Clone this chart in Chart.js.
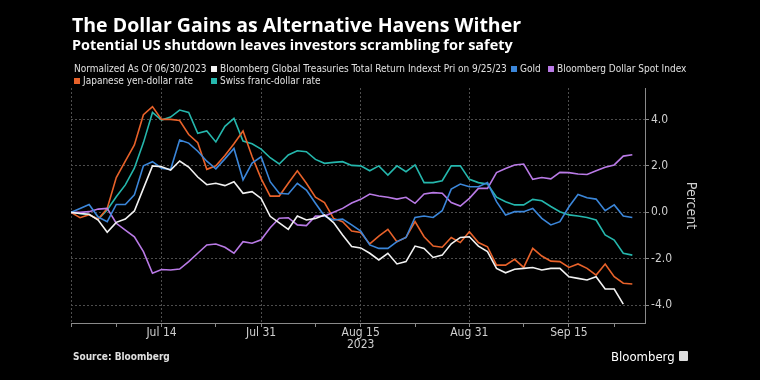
<!DOCTYPE html>
<html>
<head>
<meta charset="utf-8">
<script src="https://cdn.jsdelivr.net/npm/chart.js@4"></script>
<style>
  html, body { margin: 0; padding: 0; background: #000; }
  #wrap { position: relative; width: 760px; height: 380px; background: #000; overflow: hidden;
          font-family: 'DejaVu Sans Condensed', 'DejaVu Sans', sans-serif; }
  canvas { position: absolute; left: 0; top: 0; }
  .t { position: absolute; white-space: nowrap; color: #fff; line-height: 1; }
  #title { left: 72px; top: 14px; font-family: 'Open Sans', sans-serif; font-size: 19px; font-weight: bold; }
  #subtitle { left: 72px; top: 37px; font-family: 'Open Sans', sans-serif; font-size: 15px; font-weight: bold; }
  .leg { position: absolute; font-size: 10px; color: #e0e0e0; white-space: nowrap; line-height: 12px; }
  .box { display: inline-block; width: 6px; height: 6px; margin-right: 3px; vertical-align: 0px; }
  #source { left: 73px; top: 351px; font-size: 10px; font-weight: bold; color: #e0e0e0; line-height: 12px; }
  #logo { left: 611px; top: 349px; font-size: 13px; color: #fff; line-height: 15px; }
  #icon { position: absolute; left: 679px; top: 351px; width: 9px; height: 10px; border-radius: 1px; background: #ddd; }
</style>
</head>
<body>
<div id="wrap">
  <canvas id="c" width="760" height="380"></canvas>
  <div class="t" id="title">The Dollar Gains as Alternative Havens Wither</div>
  <div class="t" id="subtitle">Potential US shutdown leaves investors scrambling for safety</div>
  <div id="legend"></div>
  <div class="t" id="source">Source: Bloomberg</div>
  <div class="t" id="logo">Bloomberg</div>
  <div id="icon"></div>
</div>
<script>
// Trading days (x categories)
const dates = [
  'Jun 30',
  'Jul 3','Jul 4','Jul 5','Jul 6','Jul 7','Jul 10','Jul 11','Jul 12','Jul 13','Jul 14',
  'Jul 17','Jul 18','Jul 19','Jul 20','Jul 21','Jul 24','Jul 25','Jul 26','Jul 27','Jul 28','Jul 31',
  'Aug 1','Aug 2','Aug 3','Aug 4','Aug 7','Aug 8','Aug 9','Aug 10','Aug 11','Aug 14','Aug 15',
  'Aug 16','Aug 17','Aug 18','Aug 21','Aug 22','Aug 23','Aug 24','Aug 25','Aug 28','Aug 29','Aug 30','Aug 31',
  'Sep 1','Sep 4','Sep 5','Sep 6','Sep 7','Sep 8','Sep 11','Sep 12','Sep 13','Sep 14','Sep 15',
  'Sep 18','Sep 19','Sep 20','Sep 21','Sep 22','Sep 25','Sep 26'
];
const majorTickIdx = [10, 21, 32, 44, 55];
const minorTickIdx = [0, 5, 16, 27, 38, 50, 60];
const yearLabel = '2023';
const yTicks = [-4, -2, 0, 2, 4];

const treasuries = [0,-0.05,-0.08,-0.33,-0.86,-0.43,-0.29,0.06,1.03,2.0,1.96,
  1.82,2.21,1.95,1.52,1.19,1.25,1.15,1.32,0.82,0.89,0.6,
  -0.17,-0.45,-0.73,-0.16,-0.33,-0.26,-0.11,-0.44,-0.97,-1.47,-1.53,
  -1.76,-2.05,-1.76,-2.22,-2.12,-1.45,-1.55,-1.94,-1.84,-1.35,-1.08,-1.05,
  -1.45,-1.69,-2.41,-2.6,-2.45,-2.41,-2.37,-2.48,-2.41,-2.41,-2.77,
  -2.84,-2.91,-2.77,-3.3,-3.3,-3.95,null];
const gold = [0,0.17,0.34,-0.2,-0.4,0.34,0.34,0.75,2.0,2.18,1.9,
  1.84,3.11,2.98,2.63,2.2,1.87,2.3,2.75,1.4,2.12,2.39,
  1.32,0.82,0.79,1.25,0.96,0.39,-0.16,-0.33,-0.29,-0.54,-0.81,
  -1.4,-1.55,-1.55,-1.26,-1.08,-0.22,-0.16,-0.22,0.07,1.0,1.22,1.1,
  1.1,1.28,0.46,-0.11,0.03,0.03,0.17,-0.26,-0.54,-0.4,0.24,
  0.77,0.63,0.57,0.07,0.32,-0.16,-0.22];
const dollarIndex = [0,0,0.03,0.14,0.17,-0.47,-0.76,-1.05,-1.69,-2.62,-2.46,
  -2.48,-2.44,-2.12,-1.76,-1.4,-1.36,-1.5,-1.76,-1.26,-1.33,-1.18,
  -0.66,-0.25,-0.23,-0.54,-0.57,-0.16,-0.16,0,0.17,0.4,0.56,
  0.79,0.7,0.65,0.57,0.65,0.39,0.79,0.85,0.82,0.42,0.27,0.6,
  1.03,1.03,1.71,1.89,2.04,2.08,1.42,1.5,1.44,1.72,1.71,
  1.65,1.63,1.79,1.94,2.04,2.42,2.48];
const yen = [0,-0.23,-0.1,-0.3,0.17,1.5,2.2,2.9,4.2,4.55,4.0,
  4.0,3.95,3.35,3.0,1.85,2.0,2.45,2.95,3.5,2.4,1.45,
  0.7,0.7,1.25,1.79,1.25,0.65,0.42,-0.26,-0.4,-0.8,-0.87,
  -1.36,-1.02,-0.73,-1.26,-1.08,-0.4,-1.05,-1.45,-1.5,-1.08,-1.3,-0.83,
  -1.3,-1.48,-2.27,-2.27,-2.02,-2.37,-1.55,-1.88,-2.1,-2.12,-2.37,
  -2.22,-2.41,-2.7,-2.22,-2.77,-3.05,-3.08];
const franc = [0,-0.05,-0.1,-0.3,0.1,0.67,1.18,1.9,3.0,4.3,3.97,
  4.1,4.4,4.3,3.4,3.5,3.03,3.7,4.04,3.07,2.95,2.72,
  2.35,2.08,2.47,2.65,2.61,2.28,2.11,2.15,2.18,2.02,2.0,
  1.79,2.0,1.6,2.0,1.75,2.04,1.28,1.28,1.36,2.0,2.0,1.42,
  1.28,1.22,0.65,0.46,0.32,0.32,0.56,0.5,0.25,0.03,-0.11,
  -0.16,-0.22,-0.33,-0.97,-1.19,-1.76,-1.84];

const seriesNames = ['Bloomberg Global Treasuries Total Return Indexst Pri on 9/25/23', 'Gold',
  'Bloomberg Dollar Spot Index', 'Japanese yen-dollar rate', 'Swiss franc-dollar rate'];
const seriesData = [treasuries, gold, dollarIndex, yen, franc];
const seriesColors = ['#f2f2f2', '#3b86d9', '#b97ae6', '#e8622a', '#25b7ad'];
const legendNote = 'Normalized As Of 06/30/2023';

// fit title widths to the reference layout
function fitWidth(id, target, baseline) {
  const el = document.getElementById(id);
  const fs = parseFloat(getComputedStyle(el).fontSize);
  const w = el.getBoundingClientRect().width;
  const nfs = fs * target / w;
  el.style.fontSize = nfs.toFixed(2) + 'px';
  // Open Sans: baseline sits ~0.888em below the top of a line-height:1 box
  el.style.top = (baseline - 0.888 * nfs).toFixed(1) + 'px';
}
fitWidth('title', 449, 32);
fitWidth('subtitle', 441, 51);

// HTML legend
(function () {
  const leg = document.getElementById('legend');
  const items = [
    { text: legendNote, x: 74, y: 63 },
    { text: seriesNames[0], color: seriesColors[0], x: 211, y: 63 },
    { text: seriesNames[1], color: seriesColors[1], x: 511, y: 63 },
    { text: seriesNames[2], color: seriesColors[2], x: 548, y: 63 },
    { text: seriesNames[3], color: seriesColors[3], x: 74, y: 75 },
    { text: seriesNames[4], color: seriesColors[4], x: 211, y: 75 }
  ];
  items.forEach(it => {
    const d = document.createElement('div');
    d.className = 'leg';
    d.style.left = it.x + 'px';
    d.style.top = it.y + 'px';
    if (it.color) {
      const b = document.createElement('span');
      b.className = 'box';
      b.style.background = it.color;
      d.appendChild(b);
    }
    d.appendChild(document.createTextNode(it.text));
    leg.appendChild(d);
  });
})();

const FONT = "'DejaVu Sans Condensed', 'DejaVu Sans', sans-serif";
const allX = minorTickIdx.concat(majorTickIdx).sort((a, b) => a - b);
const gridIdx = [0].concat(majorTickIdx);

new Chart(document.getElementById('c'), {
  type: 'line',
  data: {
    datasets: seriesData.map((arr, k) => ({
      label: seriesNames[k],
      data: arr.map((v, i) => ({ x: i, y: v })),
      borderColor: seriesColors[k],
      backgroundColor: seriesColors[k],
      borderWidth: 1.6,
      pointRadius: 0,
      tension: 0,
      spanGaps: false
    }))
  },
  options: {
    responsive: false,
    animation: false,
    devicePixelRatio: 1,
    layout: { padding: { left: 71, top: 88, right: 61, bottom: 0 } },
    plugins: { legend: { display: false }, tooltip: { enabled: false } },
    scales: {
      x: {
        type: 'linear',
        min: 0,
        max: 63.4,
        afterBuildTicks: (s) => { s.ticks = allX.map(v => ({ value: v })); },
        afterFit: (s) => { s.height = 57; },
        grid: {
          color: (ctx) => gridIdx.includes(ctx.tick && ctx.tick.value) ? '#4d4d4d' : 'transparent',
          tickColor: '#8a8a8a',
          tickLength: 4,
          lineWidth: 1
        },
        border: { display: true, color: '#8a8a8a', width: 1, dash: [2, 2] },
        ticks: {
          autoSkip: false,
          maxRotation: 0,
          padding: 0,
          color: '#cfcfcf',
          font: { family: FONT, size: 12, lineHeight: 1.0 },
          callback: (v) => {
            if (!majorTickIdx.includes(v)) return '';
            return v === 32 ? [dates[v], yearLabel] : dates[v];
          }
        }
      },
      y: {
        position: 'right',
        min: -4.76,
        max: 5.35,
        afterBuildTicks: (s) => { s.ticks = yTicks.map(v => ({ value: v })); },
        afterFit: (s) => { s.width = 54; },
        grid: { color: '#4d4d4d', tickColor: '#8a8a8a', tickLength: 4, lineWidth: 1 },
        border: { display: true, color: '#8a8a8a', width: 1, dash: [2, 2] },
        ticks: {
          padding: 2,
          color: '#cfcfcf',
          font: { family: FONT, size: 12 },
          callback: (v) => v.toFixed(1)
        },
        title: {
          display: true,
          text: 'Percent',
          color: '#cfcfcf',
          font: { family: FONT, size: 14 },
          padding: { top: 0, bottom: 0 }
        }
      }
    }
  }
});
</script>
</body>
</html>
